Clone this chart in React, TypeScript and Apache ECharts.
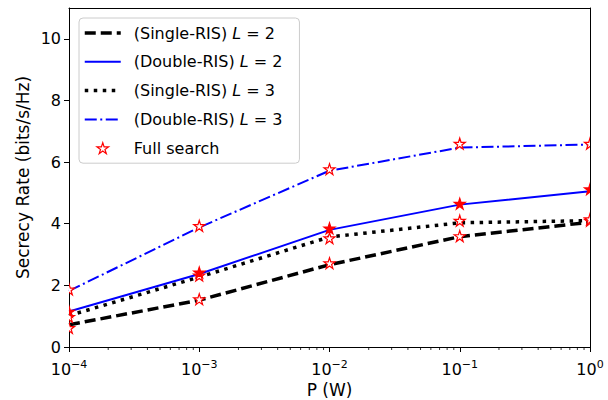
import React, { useEffect, useRef } from "react";
import * as echarts from "echarts";

// ---- data ----
const powerW = [1e-4, 1e-3, 1e-2, 1e-1, 1];
const singleL2 = [0.72, 1.52, 2.67, 3.58, 4.05];
const doubleL2 = [1.15, 2.37, 3.8, 4.62, 5.05];
const singleL3 = [1.02, 2.27, 3.57, 4.03, 4.1];
const doubleL3 = [1.82, 3.88, 5.72, 6.47, 6.57];
const fullSingleL2 = [0.62, 1.55, 2.72, 3.6, 4.1];
const fullDoubleL2 = [1.15, 2.42, 3.85, 4.65, 5.12];
const fullSingleL3 = [0.98, 2.32, 3.53, 4.1, 4.15];
const fullDoubleL3 = [1.87, 3.93, 5.77, 6.6, 6.6];
const xTickExponents = [-4, -3, -2, -1, 0];
const yTicks = [0, 2, 4, 6, 8, 10];
const minorMultipliers = [2, 3, 4, 5, 6, 7, 8, 9];
const minorDecades = [-4, -3, -2, -1];

const FONT = "DejaVu Sans";

function starPath(): string {
  const pts: string[] = [];
  const inner = 0.381966;
  for (let i = 0; i < 10; i++) {
    const r = i % 2 === 0 ? 1 : inner;
    const a = -Math.PI / 2 + (i * Math.PI) / 5;
    pts.push(`${(Math.cos(a) * r).toFixed(4)} ${(Math.sin(a) * r).toFixed(4)}`);
  }
  return "M" + pts.join(" L") + " Z";
}
const STAR = starPath();

const toXY = (vals: number[]) => powerW.map((p, i) => [Math.log10(p), vals[i]]);

export default function App() {
  const ref = useRef<HTMLDivElement>(null);
  useEffect(() => {
    if (!ref.current) return;
    const chart = echarts.init(ref.current, undefined, { renderer: "svg" });

    const minorTicks: number[][] = [];
    minorDecades.forEach((d) =>
      minorMultipliers.forEach((m) => minorTicks.push([d + Math.log10(m), 0]))
    );

    const starRender = (r: number) => (params: any, api: any) => {
      const pt = api.coord([api.value(0), api.value(1)]);
      const st = api.style();
      return {
        type: "path",
        shape: { pathData: STAR, x: pt[0] - r, y: pt[1] - r, width: 2 * r, height: 2 * r, layout: "cover" },
        style: { fill: st.fill, stroke: st.stroke, lineWidth: 1.2 },
      };
    };

    const lineSeries = (name: string, vals: number[], color: string, width: number, type: any, z: number) => ({
      name,
      type: "line",
      data: toXY(vals),
      symbol: "none",
      lineStyle: { color, width, type, cap: "butt" },
      itemStyle: { color },
      z,
    });

    const dashed = [11, 5];
    const dotted = [3.5, 5.5];
    const dashDot = [12, 3.5, 2, 3.5];

    const names = [
      "(Single-RIS) L = 2",
      "(Double-RIS) L = 2",
      "(Single-RIS) L = 3",
      "(Double-RIS) L = 3",
    ];
    const hiddenSym = { color: "rgba(0,0,0,0)", borderWidth: 0, opacity: 0 };

    const option: any = {
      animation: false,
      textStyle: { fontFamily: FONT },
      grid: { left: 69, right: 18, top: 8, bottom: 53, containLabel: false, outerBoundsMode: "none" },
      legend: {
        orient: "vertical",
        left: 79,
        top: 18,
        padding: [7, 17, 7, 4],
        itemWidth: 36,
        itemHeight: 11,
        itemGap: 12.8,
        backgroundColor: "rgba(255,255,255,0.8)",
        borderColor: "#cccccc",
        borderWidth: 1,
        borderRadius: 4,
        textStyle: {
          fontFamily: FONT,
          fontSize: 16,
          color: "#000",
          padding: [0, 0, 0, 8],
          rich: {
            n: { fontFamily: FONT, fontSize: 16, color: "#000" },
            i: { fontFamily: FONT, fontSize: 16, color: "#000", fontStyle: "italic" },
          },
        },
        formatter: (name: string) => {
          const k = name.indexOf(" L = ");
          if (k < 0) return `{n|${name}}`;
          return `{n|${name.slice(0, k)} }{i|L}{n| = ${name.slice(k + 5)}}`;
        },
        data: [
          { name: names[0], itemStyle: hiddenSym, lineStyle: { width: 3.5, type: dashed, color: "#000" } },
          { name: names[1], itemStyle: hiddenSym, lineStyle: { width: 2, type: "solid", color: "#0000ff" } },
          { name: names[2], itemStyle: hiddenSym, lineStyle: { width: 3.5, type: dotted, color: "#000" } },
          { name: names[3], itemStyle: hiddenSym, lineStyle: { width: 2, type: dashDot, color: "#0000ff" } },
          {
            name: "Full search",
            icon: "path://" + STAR,
            itemStyle: { color: "#ffffff", borderColor: "#ff0000", borderWidth: 1.2 },
          },
        ],
      },
      xAxis: [
        {
          type: "value",
          min: -4,
          max: 0,
          interval: 1,
          name: "P (W)",
          nameLocation: "middle",
          nameGap: 34,
          nameMoveOverlap: false,
          nameTextStyle: { fontFamily: FONT, fontSize: 17, color: "#000", lineHeight: 18 },
          axisLine: { onZero: false, lineStyle: { color: "#000", width: 1 } },
          axisTick: { length: 5, lineStyle: { color: "#000", width: 1 } },
          axisLabel: {
            margin: 12,
            color: "#000",
            formatter: (v: number) => {
              const e = xTickExponents.find((x) => Math.abs(x - v) < 1e-9);
              if (e === undefined) return "";
              const s = e < 0 ? "\u2212" + Math.abs(e) : String(e);
              return `{b|10}{s|${s}}`;
            },
            rich: {
              b: { fontFamily: FONT, fontSize: 16, color: "#000", verticalAlign: "bottom", lineHeight: 18 },
              s: { fontFamily: FONT, fontSize: 11, color: "#000", verticalAlign: "top", lineHeight: 11 },
            },
          },
          splitLine: { show: false },
        },
        {
          type: "value",
          min: -4,
          max: 0,
          position: "top",
          axisLine: { show: true, onZero: false, lineStyle: { color: "#000", width: 1 } },
          axisTick: { show: false },
          axisLabel: { show: false },
          splitLine: { show: false },
        },
      ],
      yAxis: [
        {
          type: "value",
          min: 0,
          max: 11,
          interval: 2,
          name: "Secrecy Rate (bits/s/Hz)",
          nameLocation: "middle",
          nameGap: 38,
          nameMoveOverlap: false,
          nameTextStyle: { fontFamily: FONT, fontSize: 17, color: "#000" },
          axisLine: { show: true, onZero: false, lineStyle: { color: "#000", width: 1 } },
          axisTick: { show: true, length: 5, customValues: yTicks, lineStyle: { color: "#000", width: 1 } },
          axisLabel: { margin: 8, color: "#000", fontFamily: FONT, fontSize: 16, customValues: yTicks },
          splitLine: { show: false },
        },
        {
          type: "value",
          min: 0,
          max: 11,
          position: "right",
          axisLine: { show: true, onZero: false, lineStyle: { color: "#000", width: 1 } },
          axisTick: { show: false },
          axisLabel: { show: false },
          splitLine: { show: false },
        },
      ],
      series: [
        lineSeries(names[0], singleL2, "#000000", 3.5, dashed, 2),
        lineSeries(names[1], doubleL2, "#0000ff", 2, "solid", 2),
        lineSeries(names[2], singleL3, "#000000", 3.5, dotted, 2),
        lineSeries(names[3], doubleL3, "#0000ff", 2, dashDot, 2),
        {
          name: "Full search",
          type: "custom",
          clip: true,
          z: 4,
          itemStyle: { color: "#ffffff", borderColor: "#ff0000" },
          renderItem: starRender(5.5),
          data: [...toXY(fullSingleL2), ...toXY(fullSingleL3), ...toXY(fullDoubleL3)],
        },
        {
          name: "Full search filled",
          type: "custom",
          clip: true,
          z: 4,
          itemStyle: { color: "#ff0000", borderColor: "#ff0000" },
          renderItem: starRender(5.5),
          data: toXY(fullDoubleL2),
        },
        {
          name: "minor ticks",
          type: "custom",
          clip: false,
          silent: true,
          z: 5,
          renderItem: (params: any, api: any) => {
            const pt = api.coord([api.value(0), 0]);
            return {
              type: "line",
              shape: { x1: pt[0], y1: pt[1], x2: pt[0], y2: pt[1] + 3 },
              style: { stroke: "#000", lineWidth: 0.8 },
            };
          },
          data: minorTicks,
        },
      ],
    };
    chart.setOption(option);
    return () => chart.dispose();
  }, []);
  return (
    <div
      ref={ref}
      style={{ position: "fixed", left: 0, top: 0, width: 608, height: 400, background: "#fff" }}
    />
  );
}
